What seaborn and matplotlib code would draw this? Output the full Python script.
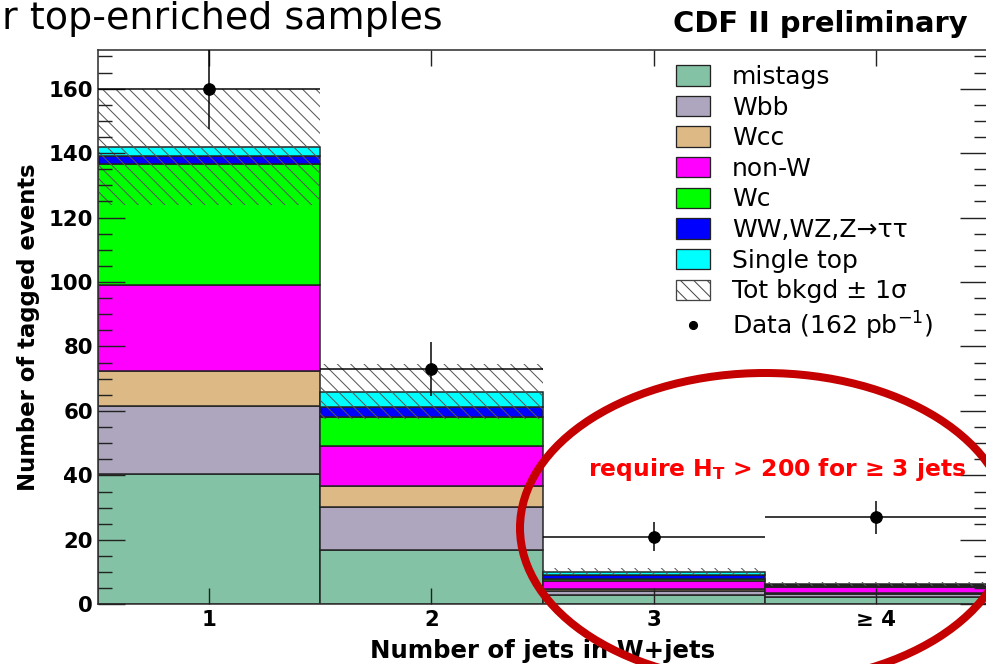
import numpy as np
import pandas as pd
import matplotlib
matplotlib.use("Agg")
import matplotlib.pyplot as plt
import seaborn as sns
from matplotlib.patches import Patch, Ellipse
from matplotlib.lines import Line2D
from matplotlib.ticker import MultipleLocator, FixedLocator, NullLocator

# ---- data -------------------------------------------------------------
njets = [1, 2, 3, 4]
tick_labels = ["1", "2", "3", "≥ 4"]

processes = ["mistags", "Wbb", "Wcc", "non-W", "Wc", "WW,WZ,Z→ττ", "Single top"]
mistags = [40.4, 16.8, 3.0, 2.4]
wbb = [21.1, 13.5, 1.0, 0.8]
wcc = [10.9, 6.5, 0.8, 0.4]
non_w = [26.6, 12.4, 2.5, 1.7]
wc = [37.7, 9.0, 0.7, 0.4]
diboson = [2.5, 2.9, 1.0, 0.3]
single_top = [2.7, 4.9, 1.1, 0.3]
bkgd_err = [18.1, 8.5, 1.1, 0.5]

data = [160, 73, 21, 27]
data_err = [12.6, 8.5, 4.6, 5.2]

colors = ["#84c2a5", "#ada6be", "#dcb985", "#ff00ff", "#00ff00", "#0000ff", "#00ffff"]

# ---- style ------------------------------------------------------------
DPI = 80
W, H = 986, 664


def pt(p):
    """pixels -> points at the output resolution"""
    return p * 72.0 / DPI


sns.set_theme(style="ticks")
plt.rcParams["font.family"] = ["DejaVu Sans"]
plt.rcParams["text.color"] = "black"
plt.rcParams["axes.labelcolor"] = "black"
plt.rcParams["xtick.color"] = "black"
plt.rcParams["ytick.color"] = "black"
plt.rcParams["mathtext.fontset"] = "custom"
plt.rcParams["mathtext.rm"] = "DejaVu Sans"
plt.rcParams["mathtext.it"] = "DejaVu Sans:italic"
plt.rcParams["mathtext.bf"] = "DejaVu Sans:bold"
plt.rcParams["hatch.linewidth"] = pt(1.0)

components = [mistags, wbb, wcc, non_w, wc, diboson, single_top]
df = pd.DataFrame({
    "njets": np.tile(njets, len(processes)),
    "process": np.repeat(processes, len(njets)),
    "events": np.concatenate(components),
})

fig = plt.figure(figsize=(W / DPI, H / DPI), dpi=DPI)
fig.patch.set_facecolor("white")
ax = fig.add_axes([98 / W, (H - 604.3) / H, 889 / W, 554.3 / H])
ax.set_facecolor("white")

# stacked background histogram (seaborn puts the first hue level on top,
# so the order is reversed to keep mistags at the bottom)
sns.histplot(
    data=df, x="njets", hue="process", weights="events",
    hue_order=processes[::-1], palette=dict(zip(processes, colors)),
    multiple="stack", discrete=True, shrink=1.0, alpha=1.0,
    edgecolor="#222222", linewidth=pt(1.5), legend=False, ax=ax,
)

# total background +- 1 sigma band
total = np.sum(np.array(components), axis=0)
err = np.array(bkgd_err)
ax.bar(njets, 2 * err, bottom=total - err, width=1.0, fill=False,
       hatch="\\\\", edgecolor="#555555", linewidth=0, zorder=2)

# data points
ax.errorbar(njets, data, yerr=data_err, xerr=0.5, fmt="o", color="black",
            ms=pt(11.5), elinewidth=pt(1.5), capsize=0, zorder=4)

# ---- axes -------------------------------------------------------------
ax.set_xlim(0.5, 4.5)
ax.set_ylim(0, 172)
ax.xaxis.set_major_locator(FixedLocator(njets))
ax.xaxis.set_minor_locator(NullLocator())
ax.set_xticklabels(tick_labels)
ax.yaxis.set_major_locator(MultipleLocator(20))
ax.yaxis.set_minor_locator(MultipleLocator(5))
ax.set_axisbelow(False)

ax.tick_params(axis="both", which="both", direction="in", top=True, right=True,
               color="#222222", width=pt(1.4))
ax.tick_params(axis="y", which="major", length=pt(27), pad=pt(5))
ax.tick_params(axis="y", which="minor", length=pt(13.5))
ax.tick_params(axis="x", which="major", length=pt(16), pad=pt(6))
for lab in ax.get_xticklabels() + ax.get_yticklabels():
    lab.set_fontweight("bold")
    lab.set_fontsize(pt(21.3))

for s in ax.spines.values():
    s.set_color("#333333")
    s.set_linewidth(pt(1.6))

ax.set_xlabel("Number of jets in W+jets", fontsize=pt(24.4), fontweight="bold")
ax.set_ylabel("Number of tagged events", fontsize=pt(22.7), fontweight="bold")
ax.xaxis.set_label_coords(0.5, -0.063)
ax.yaxis.set_label_coords(-0.065, 0.5)

# ---- legend -----------------------------------------------------------
handles = [Patch(facecolor=c, edgecolor="#222222", linewidth=pt(1.3), label=p)
           for p, c in zip(processes, colors)]
handles.append(Patch(facecolor="white", edgecolor="#444444", hatch="\\\\",
                     linewidth=pt(1.3), label="Tot bkgd ± 1σ"))
handles.append(Line2D([], [], marker="o", color="black", linestyle="none",
                      ms=pt(8), label=r"Data (162 pb$^{\mathregular{-1}}$)"))
fs_leg = 25.0
ax.legend(handles=handles, loc="upper left",
          bbox_to_anchor=(676 / W, (H - 65) / H), bbox_transform=fig.transFigure,
          frameon=False, borderpad=0, borderaxespad=0,
          fontsize=pt(fs_leg), handlelength=34 / fs_leg, handleheight=22 / fs_leg,
          handletextpad=22 / fs_leg, labelspacing=0.265)

# ---- annotations --------------------------------------------------------
fig.text(2 / W, 1 - 1 / H, "r top-enriched samples", ha="left",
         va="top", fontsize=pt(38), color="black")
fig.text(968 / W, 1 - 31.7 / H, "CDF II preliminary", ha="right",
         va="baseline", fontsize=pt(29), fontweight="bold", color="black")
fig.text(777 / W, 1 - 476 / H, r"require H$_\mathbf{T}$ > 200 for ≥ 3 jets",
         ha="center", va="baseline", fontsize=pt(23.5), fontweight="bold",
         color="#ff0000", zorder=6)
fig.add_artist(Ellipse((765 / W, (H - 528) / H), 490 / W, 310 / H,
                       transform=fig.transFigure, fill=False,
                       edgecolor="#c40000", linewidth=pt(8), zorder=10))

fig.savefig("out.png", dpi=DPI, facecolor="white")
